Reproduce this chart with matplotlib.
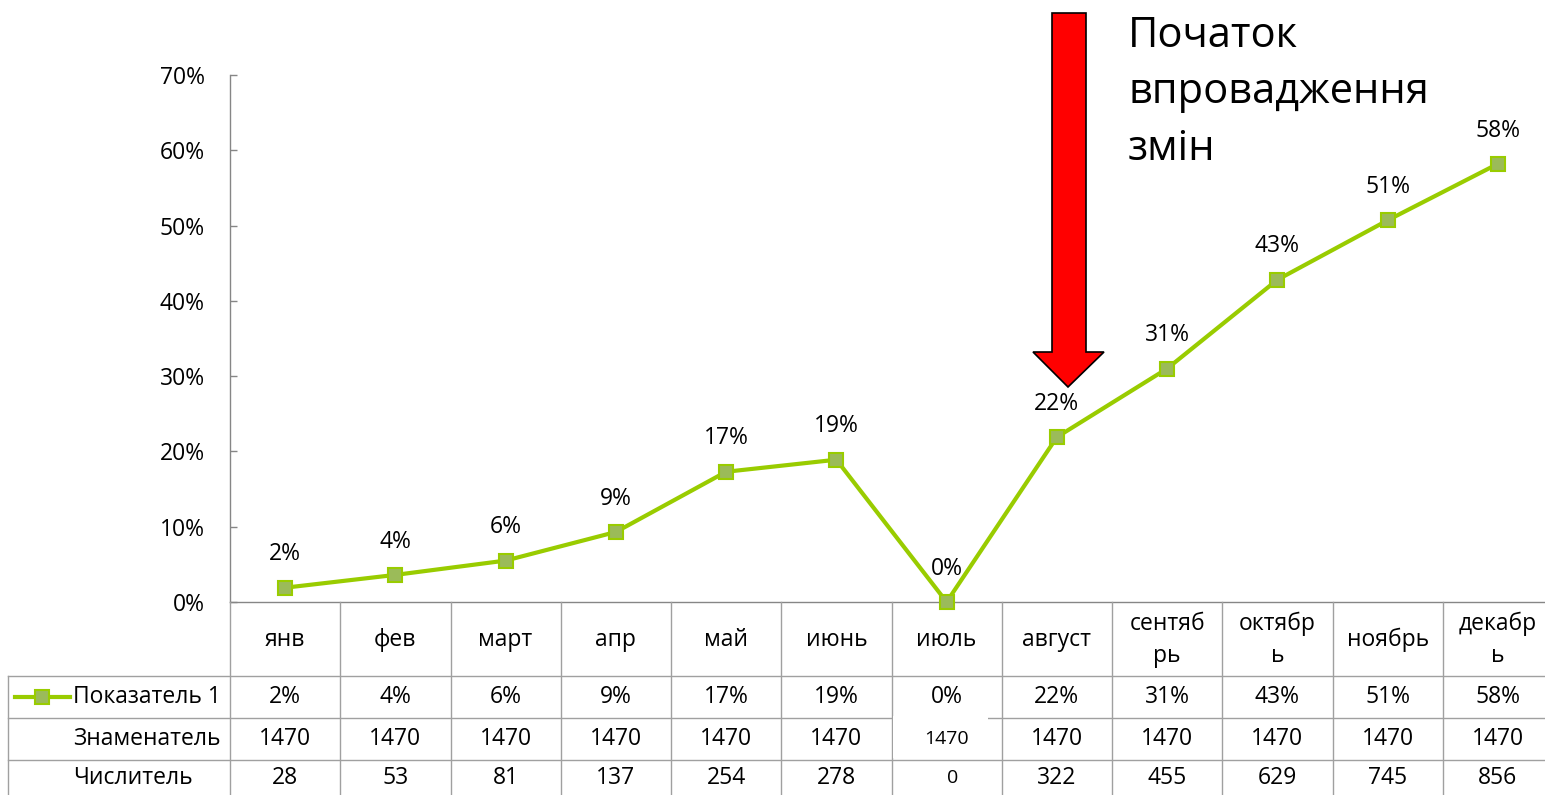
import matplotlib
matplotlib.use("Agg")
import matplotlib.pyplot as plt
from matplotlib import transforms
from matplotlib.patches import Polygon, Rectangle
from matplotlib.lines import Line2D
from matplotlib.ticker import PercentFormatter

plt.rcParams['font.family'] = ['Open Sans', 'DejaVu Sans']

# ---------------- data ----------------
months = ['янв', 'фев', 'март', 'апр', 'май', 'июнь', 'июль', 'август',
          'сентяб\nрь', 'октябр\nь', 'ноябрь', 'декабр\nь']
series_name = 'Показатель 1'
values = [0.019, 0.036, 0.055, 0.093, 0.173, 0.189, 0.0, 0.219, 0.310, 0.428, 0.507, 0.582]
denominator = [1470, 1470, 1470, 1470, 1470, 1470, 1470, 1470, 1470, 1470, 1470, 1470]
numerator = [28, 53, 81, 137, 254, 278, 0, 322, 455, 629, 745, 856]
row_labels = ['Знаменатель', 'Числитель']
yticks = [0, 0.1, 0.2, 0.3, 0.4, 0.5, 0.6, 0.7]
annotation = 'Початок\nвпровадження\nзмін'

LINE_C = '#99CC00'
MARK_C = '#9BBB59'
GRID_C = '#a0a0a0'
FS = 16.5

W, H = 1545, 795
fig = plt.figure(figsize=(W / 100, H / 100), dpi=100)

# main axes (pixel layout converted to figure fractions)
ax = fig.add_axes([230 / W, (H - 602) / H, (1553 - 230) / W, (602 - 75) / H])
ov = fig.add_axes([0, 0, 1, 1], facecolor='none')
ov.set_xlim(0, W)
ov.set_ylim(H, 0)
ov.axis('off')

x = list(range(len(months)))
ax.plot(x, values, color=LINE_C, lw=3, marker='s', ms=9.5,
        mfc=MARK_C, mec=LINE_C, mew=1.5, clip_on=False, zorder=5)
for xi, v in zip(x, values):
    ax.annotate(f'{v * 100:.0f}%', (xi, v), xytext=(0, 24), textcoords='offset points',
                ha='center', va='center', fontsize=FS, color='#000000')

ax.set_xlim(-0.5, len(months) - 0.5)
ax.set_ylim(0, 0.7)
ax.set_yticks(yticks)
ax.yaxis.set_major_formatter(PercentFormatter(1.0, decimals=0))
ax.tick_params(axis='y', direction='in', length=5, width=1, color='#868686',
               labelsize=FS, pad=18)
ax.tick_params(axis='x', bottom=False, labelbottom=False)
for s in ['top', 'right']:
    ax.spines[s].set_visible(False)
for s in ['left', 'bottom']:
    ax.spines[s].set_color('#868686')
    ax.spines[s].set_linewidth(1)
ax.patch.set_alpha(0)

# ---------------- data table under the axis ----------------
trans = transforms.blended_transform_factory(ax.transData, ov.transData)
n = len(months)
row_y = [640, 697, 739, 778]
for yy in [676, 718, 760]:
    ov.add_line(Line2D([8, W], [yy, yy], color=GRID_C, lw=1))
ov.add_line(Line2D([8, 8], [676, H], color=GRID_C, lw=1))
for k in range(n + 1):
    ov.add_line(Line2D([k - 0.5, k - 0.5], [602, H], color=GRID_C, lw=1,
                       transform=trans, clip_on=False))
# white patch in July cell
ov.add_patch(Rectangle((893, 716), 95, 42, facecolor='white', edgecolor='none', zorder=3))

for i in x:
    ov.text(i, row_y[0], months[i], transform=trans, ha='center', va='center',
            fontsize=FS, linespacing=1.45, zorder=4)
    ov.text(i, row_y[1], f'{values[i] * 100:.0f}%', transform=trans, ha='center',
            va='center', fontsize=FS, zorder=4)
    ov.text(i, row_y[2], f'{denominator[i]}', transform=trans, ha='center',
            va='center', fontsize=14 if i == 6 else FS, zorder=4)
    ov.text(i + (0.05 if i == 6 else 0), row_y[3], f'{numerator[i]}', transform=trans,
            ha='center', va='center', fontsize=14 if i == 6 else FS, zorder=4)

# legend key + row labels
ov.add_line(Line2D([15, 70], [697, 697], color=LINE_C, lw=3))
ov.add_line(Line2D([42], [697], color=LINE_C, marker='s', ms=9.5,
                   mfc=MARK_C, mec=LINE_C, mew=1.5))
ov.text(73, 697, series_name, ha='left', va='center', fontsize=FS)
ov.text(73, 739, row_labels[0], ha='left', va='center', fontsize=FS)
ov.text(73, 778, row_labels[1], ha='left', va='center', fontsize=FS)

# ---------------- arrow and annotation ----------------
arrow = Polygon([(1052, 13), (1086, 13), (1086, 352), (1104, 352), (1068, 387),
                 (1033, 352), (1052, 352)], closed=True,
                facecolor='#FF0000', edgecolor='#000000', lw=1.2, zorder=6)
ov.add_patch(arrow)
ov.text(1128, 15, annotation, ha='left', va='top', fontsize=30, linespacing=1.45)

fig.savefig('out.png', dpi=100)
